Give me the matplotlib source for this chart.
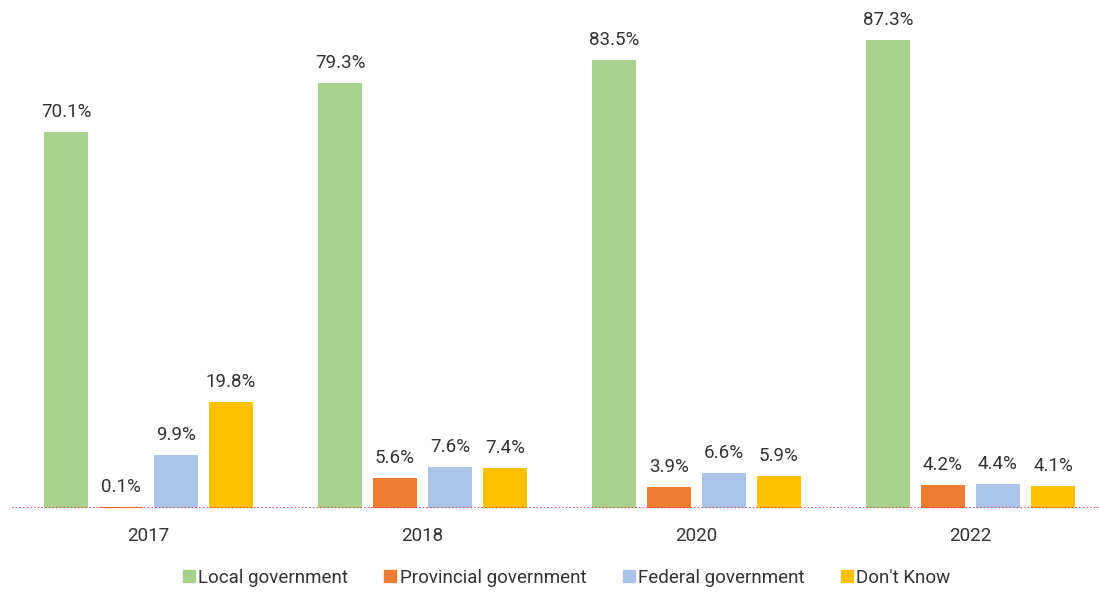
import matplotlib
matplotlib.use("Agg")
import matplotlib.pyplot as plt
from matplotlib.lines import Line2D
import numpy as np

years = ["2017", "2018", "2020", "2022"]
series_names = ["Local government", "Provincial government", "Federal government", "Don't Know"]
local_gov = [70.1, 79.3, 83.5, 87.3]
provincial_gov = [0.1, 5.6, 3.9, 4.2]
federal_gov = [9.9, 7.6, 6.6, 4.4]
dont_know = [19.8, 7.4, 5.9, 4.1]
colors = ["#A9D18E", "#ED7D31", "#A9C4E8", "#FFC000"]

plt.rcParams["font.family"] = ["Roboto", "DejaVu Sans"]
text_color = "#333333"

W, H = 1099, 594
fig = plt.figure(figsize=(W / 100, H / 100), dpi=100)
ax = fig.add_axes([11.5 / W, 86 / H, 1096 / W, 508 / H])

x = np.arange(len(years))
slot = 55 / 274
width = 44 / 274
all_series = [local_gov, provincial_gov, federal_gov, dont_know]
for i, (vals, name, col) in enumerate(zip(all_series, series_names, colors)):
    pos = x + (i - 1.5) * slot
    bars = ax.bar(pos, vals, width=width, color=col, label=name, zorder=2)
    for b, v in zip(bars, vals):
        ax.annotate(f"{v:.1f}%", (b.get_x() + b.get_width() / 2, v),
                    xytext=(0, 11), textcoords="offset pixels",
                    ha="center", va="bottom", fontsize=13.5, color=text_color)

ax.set_xlim(-0.5, 3.5)
ax.set_ylim(0, 94.7)
ax.axhline(0, color="#E0304F", lw=1.2, ls=(0, (1, 1.2)), zorder=3)
for s in ax.spines.values():
    s.set_visible(False)
ax.set_yticks([])
ax.set_xticks(x)
ax.set_xticklabels(years, fontsize=13.5, color=text_color)
ax.tick_params(axis="x", length=0, pad=14)

handles = [Line2D([], [], marker="s", ls="", color=c, markersize=9) for c in colors]
fig.legend(handles, series_names, loc="center", bbox_to_anchor=(0.514, 0.027),
           ncol=4, frameon=False, handletextpad=0.0,
           columnspacing=1.75, labelcolor=text_color, handlelength=1.0,
           prop={"size": 13.5})

fig.savefig("out.png", dpi=100)
